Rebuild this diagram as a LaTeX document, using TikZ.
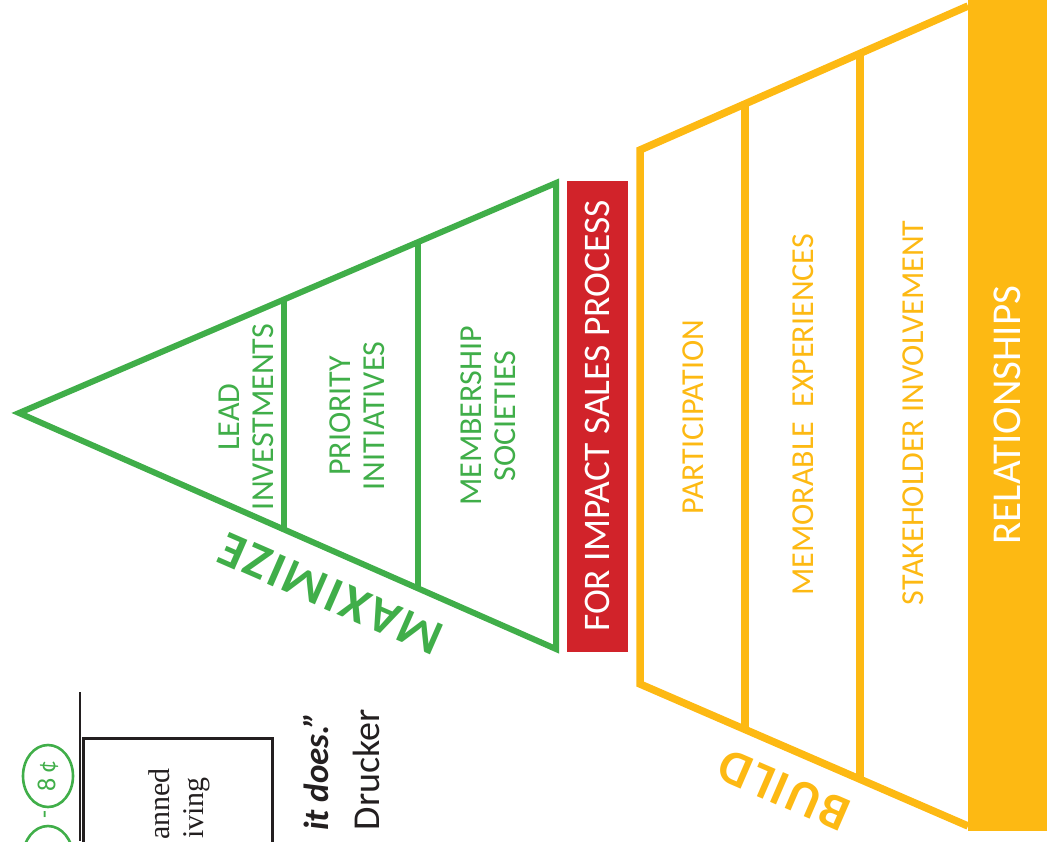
\documentclass[tikz,border=0pt]{standalone}
\usepackage{fontspec}
\setmainfont{Carlito}
\newfontfamily\widefont[LetterSpace=5]{Carlito}
\newfontfamily\planfont{Liberation Serif}
\usetikzlibrary{calc, shapes.geometric}
\definecolor{maxgreen}{RGB}{64,174,73}
\definecolor{buildgold}{RGB}{253,185,19}
\definecolor{salesred}{RGB}{209,35,42}
\definecolor{inkgray}{RGB}{35,31,32}
\tikzset{
  greenline/.style = {draw=maxgreen, line width=6pt},
  goldline/.style = {draw=buildgold, line width=7.5pt},
  boxline/.style = {draw=inkgray, line width=2.8pt},
  vtext/.style = {rotate=90, align=center, inner sep=0pt, font=\fontsize{32}{34}\selectfont},
  slopetext/.style = {inner sep=0pt, font=\widefont\bfseries\fontsize{50}{54}\selectfont},
  band/.style = {rotate=90, inner sep=0pt, text=white}
}

\begin{document}
\begin{tikzpicture}[x=1pt, y=-1pt]
    \useasboundingbox (0,0) rectangle (1052,841);
    \clip (0,0) rectangle (1052,841);

    % Funnel: Maximize
    \coordinate (apex) at (19,413);
    \coordinate (gtop) at (556,183);
    \coordinate (gbot) at (556,649);
    \draw[greenline, line join=miter] (apex) -- (gtop) -- (gbot) -- cycle;
    \draw[greenline] ($(apex)!0.4935!(gtop)$) -- ($(apex)!0.4935!(gbot)$);
    \draw[greenline] ($(apex)!0.743!(gtop)$) -- ($(apex)!0.743!(gbot)$);

    \node[vtext, text=maxgreen] (lead) at (246,417) {LEAD\\INVESTMENTS};
    \node[vtext, text=maxgreen] (priority) at (357,416) {PRIORITY\\INITIATIVES};
    \node[vtext, text=maxgreen] (member) at (488,416) {MEMBERSHIP\\SOCIETIES};
    \node[slopetext, rotate=156.4, text=maxgreen] (maximize) at (331,594) {MAXIMIZE};

    % Middle band
    \node[band, fill=salesred, minimum width=471pt, minimum height=61pt,
          font=\fontsize{37.5}{40}\selectfont] (sales) at (597.5,416) {FOR IMPACT SALES PROCESS};

    % Funnel: Build
    \coordinate (ytopl) at (640,150);
    \coordinate (ytopr) at (968,6);
    \coordinate (ybotl) at (640,684);
    \coordinate (ybotr) at (968,826);
    \draw[goldline, line join=miter] (ytopr) -- (ytopl) -- (ybotl) -- (ybotr);
    \draw[goldline] ($(ytopl)!0.32!(ytopr)$) -- ($(ybotl)!0.32!(ybotr)$);
    \draw[goldline] ($(ytopl)!0.671!(ytopr)$) -- ($(ybotl)!0.671!(ybotr)$);

    \node[vtext, text=buildgold] (particip) at (693,417) {PARTICIPATION};
    \node[vtext, text=buildgold] (memorable) at (803,415) {MEMORABLE~ EXPERIENCES};
    \node[vtext, text=buildgold] (stake) at (913,413) {STAKEHOLDER INVOLVEMENT};
    \node[band, fill=buildgold, minimum width=832pt, minimum height=79pt,
          font=\fontsize{41}{44}\selectfont] (relations) at (1007,415) {RELATIONSHIPS};
    \node[slopetext, rotate=156.6, text=buildgold] (build) at (784,790) {BUILD};

    % Cut-off neighbours
    \draw[boxline] (80,692) -- (80,841);
    \node[boxline, draw, anchor=north west, minimum width=189pt, minimum height=200pt] (planbox) at (82,737) {};
    \node[rotate=90, anchor=east, inner sep=0pt, font=\planfont\fontsize{30}{32}\selectfont, text=inkgray] (planned) at (159,768) {anned};
    \node[rotate=90, anchor=east, inner sep=0pt, font=\planfont\fontsize{30}{32}\selectfont, text=inkgray] (giving) at (197,777) {iving};
    \node[rotate=90, anchor=east, inner sep=0pt, font=\bfseries\itshape\fontsize{35}{38}\selectfont, text=inkgray] (quote) at (316,712) {it does.”};
    \node[rotate=90, anchor=east, inner sep=0pt, font=\fontsize{38}{40}\selectfont, text=inkgray] (author) at (366,709) {Drucker};

    \node[ellipse, rotate=90, draw=maxgreen, line width=2.6pt, minimum width=62pt, minimum height=50pt, inner sep=0pt,
          text=maxgreen, font=\fontsize{26}{28}\selectfont] (centa) at (48,776) {8\,¢};
    \node[rotate=90, inner sep=0pt, text=maxgreen, font=\fontsize{26}{28}\selectfont] (dash) at (48,815) {-};
    \node[ellipse, rotate=90, draw=maxgreen, line width=2.6pt, minimum width=62pt, minimum height=50pt, inner sep=0pt,
          text=maxgreen, font=\fontsize{26}{28}\selectfont] (centb) at (48,857) {8\,¢};

\end{tikzpicture}
\end{document}
